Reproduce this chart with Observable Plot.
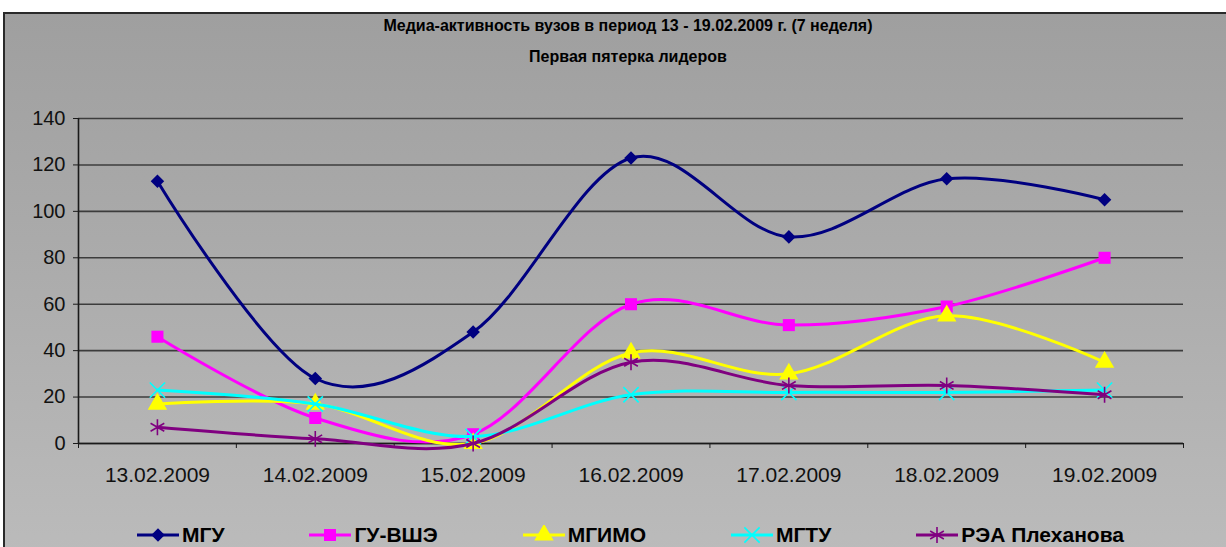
<!DOCTYPE html>
<html>
<head>
<meta charset="utf-8">
<script src="https://cdn.jsdelivr.net/npm/d3@7"></script>
<script src="https://cdn.jsdelivr.net/npm/@observablehq/plot@0.6"></script>
<style>
  html, body { margin: 0; padding: 0; width: 1226px; height: 547px; overflow: hidden; background: #fff; }
  body { font-family: "Liberation Sans", Arial, sans-serif; }
  #frame {
    position: absolute; left: 3px; top: 12px; width: 1240px; height: 560px;
    border-left: 2px solid #2a2a2a; border-top: 2px solid #2a2a2a;
    background: linear-gradient(to bottom, #9f9f9f 0%, #aaaaaa 40%, #bcbcbc 100%);
  }
  .title { position: absolute; left: 0; width: 1256px; text-align: center; font-weight: bold; color: #000; font-size: 16px; line-height: 18px; }
  #chart { position: absolute; left: 0; top: 100px; }
  #legend { position: absolute; left: 137px; top: 522px; display: flex; gap: 85px; align-items: center; }
  .item { display: flex; align-items: center; gap: 3px; font-weight: bold; font-size: 21px; line-height: 26px; color: #000; }
</style>
</head>
<body>
<div id="frame"></div>
<div class="title" style="top:17px">Медиа-активность вузов в период 13 - 19.02.2009 г. (7 неделя)</div>
<div class="title" style="top:48px">Первая пятерка лидеров</div>
<div id="chart"></div>
<div id="legend"></div>
<script>
const dates = ["13.02.2009", "14.02.2009", "15.02.2009", "16.02.2009", "17.02.2009", "18.02.2009", "19.02.2009"];
const seriesNames = ["МГУ", "ГУ-ВШЭ", "МГИМО", "МГТУ", "РЭА Плеханова"];
const mgu   = [113, 28, 48, 123, 89, 114, 105];
const hse   = [46, 11, 4, 60, 51, 59, 80];
const mgimo = [17, 17, 0, 39, 30, 55, 35];
const mgtu  = [23, 17, 3, 21, 22, 22, 23];
const rea   = [7, 2, 0, 35, 25, 25, 21];
const yTicks = [0, 20, 40, 60, 80, 100, 120, 140];

const seriesValues = [mgu, hse, mgimo, mgtu, rea];
const colors = ["#000080", "#FF00FF", "#FFFF00", "#00FFFF", "#800080"];
const symbolSpec = [
  {symbol: "square", rotate: 45, r: 5.4, filled: true},
  {symbol: "square", rotate: 0, r: 6.8, filled: true},
  {symbol: "triangle", rotate: 0, r: 7.2, filled: true},
  {symbol: "times", rotate: 0, r: 7, filled: false},
  {symbol: "asterisk", rotate: 0, r: 7.5, filled: false}
];

const rows = seriesNames.flatMap((s, k) => seriesValues[k].map((v, i) => ({series: s, i, value: v})));
const idx = d3.range(dates.length);
const bounds = d3.range(dates.length + 1).map(i => i - 0.5);

const marks = [
  Plot.gridY(yTicks, {stroke: "#3c3c3c", strokeOpacity: 1, strokeWidth: 1.6}),
  Plot.ruleY([0], {stroke: "#1a1a1a", strokeWidth: 1.6}),
  Plot.ruleX([-0.5], {stroke: "#1a1a1a", strokeWidth: 1.6}),
  Plot.axisY({ticks: yTicks, tickSize: 5, tickPadding: 8, fontSize: 20, label: null, stroke: "#1a1a1a"}),
  Plot.axisX({ticks: bounds, tickSize: 5, tickFormat: () => "", label: null, stroke: "#1a1a1a"}),
  Plot.axisX({ticks: idx, tickSize: 0, tickPadding: 24, tickFormat: i => dates[i], fontSize: 21, label: null})
];
seriesNames.forEach((s, k) => {
  const data = rows.filter(d => d.series === s);
  const sp = symbolSpec[k];
  marks.push(Plot.line(data, {x: "i", y: "value", stroke: colors[k], strokeWidth: 3, curve: "cardinal"}));
  marks.push(Plot.dot(data, {
    x: "i", y: "value", symbol: sp.symbol, rotate: sp.rotate, r: sp.r,
    fill: sp.filled ? colors[k] : "none", stroke: sp.filled ? "none" : colors[k], strokeWidth: 1.6
  }));
});

const chart = Plot.plot({
  width: 1226, height: 400,
  marginTop: 18, marginBottom: 57, marginLeft: 78, marginRight: 43,
  style: {background: "transparent", fontFamily: "Liberation Sans, Arial, sans-serif", color: "#111", overflow: "visible"},
  x: {type: "linear", domain: [-0.5, dates.length - 0.5]},
  y: {domain: [0, 140]},
  marks
});
document.getElementById("chart").appendChild(chart);

// legend
const legend = d3.select("#legend");
seriesNames.forEach((s, k) => {
  const item = legend.append("div").attr("class", "item");
  const svg = item.append("svg").attr("width", 42).attr("height", 20);
  svg.append("line").attr("x1", 0).attr("x2", 42).attr("y1", 10).attr("y2", 10)
    .attr("stroke", colors[k]).attr("stroke-width", 3);
  const sp = symbolSpec[k];
  const symType = {square: d3.symbolSquare, triangle: d3.symbolTriangle, times: d3.symbolTimes, asterisk: d3.symbolAsterisk}[sp.symbol];
  svg.append("path")
    .attr("d", d3.symbol(symType, Math.PI * sp.r * sp.r)())
    .attr("transform", `translate(21,10) rotate(${sp.rotate})`)
    .attr("fill", sp.filled ? colors[k] : "none")
    .attr("stroke", sp.filled ? "none" : colors[k])
    .attr("stroke-width", 1.6);
  item.append("span").text(s);
});
</script>
</body>
</html>
